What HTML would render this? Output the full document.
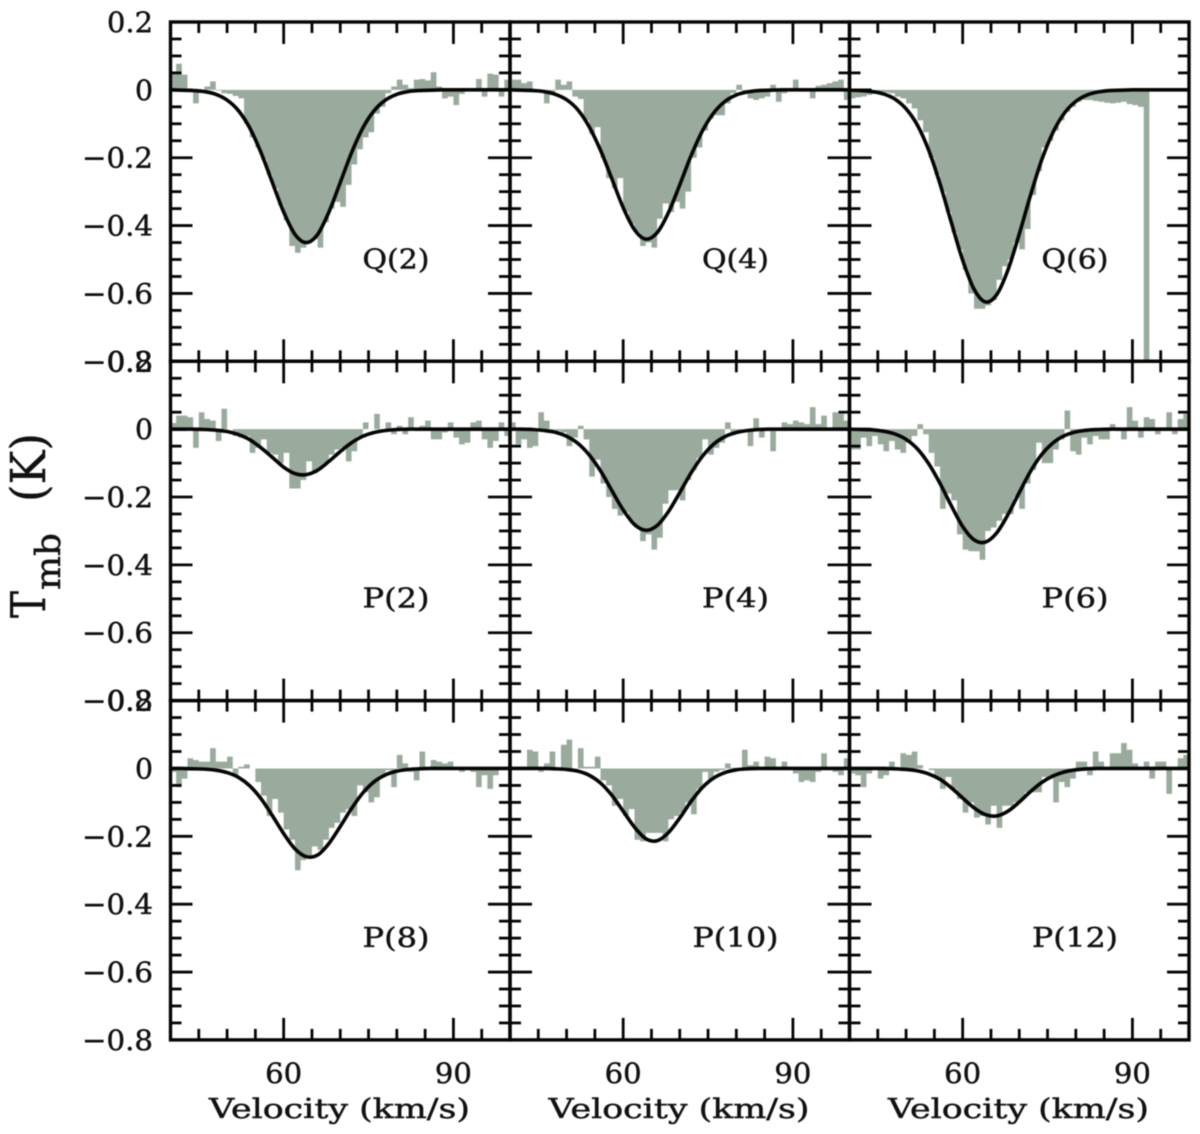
<!DOCTYPE html>
<html>
<head>
<meta charset="utf-8">
<title>Tmb spectra</title>
<style>
html,body{margin:0;padding:0;background:#fff;width:1200px;height:1134px;overflow:hidden}
#chart{display:block;filter:blur(0.55px)}
text{font-family:"DejaVu Serif","Liberation Serif",serif;fill:#111;stroke:#111;stroke-width:0.45px}
</style>
</head>
<body>
<svg id="chart" xmlns="http://www.w3.org/2000/svg" width="1200" height="1134" viewBox="0 0 1200 1134">
<rect x="0" y="0" width="1200" height="1134" fill="#fff"/>
<text transform="translate(45,618) rotate(-90)" font-size="48" textLength="27" lengthAdjust="spacingAndGlyphs">T</text>
<text transform="translate(60,590) rotate(-90)" font-size="35" textLength="57" lengthAdjust="spacingAndGlyphs">mb</text>
<text transform="translate(45,502) rotate(-90)" font-size="48" textLength="69" lengthAdjust="spacingAndGlyphs">(K)</text>
</svg>
<script>
// Axis tick values
const xMajorTicks = [60, 90];
const xMinorTicks = [45, 50, 55, 65, 70, 75, 80, 85, 95];
const xTickLabels = ["60", "90"];
const yMajorTicks = [0.2, 0, -0.2, -0.4, -0.6, -0.8];
const yMinorTicks = [0.15, 0.1, 0.05, -0.05, -0.1, -0.15, -0.25, -0.3, -0.35, -0.45, -0.5, -0.55, -0.65, -0.7, -0.75];
const yTickLabels = ["0.2", "0", "\u22120.2", "\u22120.4", "\u22120.6", "\u22120.8"];

// Velocities (km/s) at which the fitted curves are sampled
const fitVelocities = [40,42,44,46,48,50,52,54,56,58,60,62,64,66,68,70,72,74,76,78,80,82,84,86,88,90,92,94,96,98,100];

// Panel names
const panelNames = ["Q(2)","Q(4)","Q(6)","P(2)","P(4)","P(6)","P(8)","P(10)","P(12)"];

// Observed spectra: one value per 1 km/s channel, 40 to 100 km/s
const specQ2 = [.05,.077,.045,0,-.04,-.01,.01,.025,-.002,-.01,
-.012,-.018,-.025,-.1,-.14,-.17,-.205,-.25,-.29,-.34,
-.385,-.46,-.48,-.465,-.445,-.44,-.465,-.39,-.35,-.33,
-.345,-.28,-.22,-.175,-.14,-.125,-.07,-.05,-.01,.01,
.03,.015,.005,.03,.032,.028,.052,.01,-.025,-.02,
-.045,-.012,-.005,.002,.032,-.02,.048,.045,-.02,.03];
const specQ4 = [.03,.03,.02,.025,-.005,-.005,-.04,-.01,.03,.015,
.025,-.02,-.027,-.09,-.13,-.11,-.2,-.26,-.29,-.26,
-.36,-.395,-.42,-.46,-.45,-.465,-.38,-.335,-.36,-.33,
-.35,-.3,-.2,-.17,-.12,-.085,-.075,-.075,-.04,-.01,
.015,-.005,-.025,-.03,-.025,-.02,.015,-.035,-.01,0,
.03,.005,.002,-.025,.012,.015,.02,.025,.03,-.03];
const specQ6 = [-.025,-.022,-.02,-.015,-.012,-.01,-.008,-.01,-.02,-.025,
-.04,-.055,-.09,-.125,-.2,-.25,-.3,-.36,-.42,-.47,
-.53,-.6,-.645,-.645,-.635,-.62,-.56,-.52,-.5,-.45,
-.47,-.41,-.31,-.24,-.17,-.15,-.12,-.09,-.065,-.05,
-.035,-.03,-.03,-.033,-.035,-.038,-.04,-.038,-.035,-.042,
-.045,-.05,-.8,0,0,0,0,0,0,0];
const specP2 = [.018,.04,.04,.035,-.055,.05,.03,.025,-.035,.06,
0,-.02,-.025,-.02,-.07,-.055,-.03,-.07,-.075,-.1,
-.07,-.175,-.175,-.15,-.095,-.13,-.115,-.1,-.075,-.06,
-.055,-.095,-.065,-.02,.02,0,.045,-.005,.02,-.015,
.01,-.015,.035,0,.01,.025,-.03,-.03,-.01,.02,
-.025,-.045,-.04,.02,.025,-.03,-.055,-.035,.02,-.02];
const specP4 = [.02,-.045,-.03,-.055,-.05,.05,.025,-.002,-.005,-.01,
-.05,-.025,.01,-.03,-.14,-.09,-.16,-.2,-.235,-.255,
-.245,-.27,-.29,-.33,-.31,-.355,-.32,-.22,-.18,-.18,
-.21,-.15,-.12,-.085,-.03,-.075,-.055,-.04,.02,-.01,
-.01,0,-.05,.032,-.025,.005,-.065,-.005,.02,.015,
.025,.02,.015,.065,.015,.04,0,.05,.045,.025];
const specP6 = [-.06,-.06,-.025,-.05,-.02,-.045,-.065,-.035,-.06,-.07,
-.04,-.02,.015,-.015,-.07,-.11,-.235,-.19,-.21,-.31,
-.355,-.36,-.36,-.385,-.3,-.29,-.27,-.25,-.25,-.2,
-.235,-.16,-.12,-.04,-.1,-.1,-.06,-.03,.055,-.065,
-.075,-.025,-.045,-.02,-.03,-.03,.015,0,-.03,.065,
.025,-.025,.035,.03,-.015,0,.05,-.015,.03,.045];
const specP8 = [-.01,-.055,-.03,.03,.025,.02,.02,.06,.02,.02,
.035,-.02,.005,.012,0,-.04,-.08,-.14,-.09,-.13,
-.18,-.21,-.3,-.27,-.26,-.23,-.24,-.21,-.175,-.16,
-.13,-.12,-.14,-.05,-.07,-.1,-.085,-.02,-.005,-.055,
.04,.015,-.01,-.035,.05,0,.025,.02,.015,.02,
.005,-.01,-.005,-.01,-.055,-.02,-.06,-.02,-.005,.005];
const specP10 = [0,.005,.005,.055,.05,-.01,.015,.05,-.005,.07,
.085,-.005,.06,.005,.005,.035,-.035,-.05,-.11,-.09,
-.14,-.12,-.21,-.215,-.19,-.19,-.19,-.215,-.15,-.14,
-.13,-.1,-.135,-.06,-.01,-.035,-.01,-.005,.015,.002,
.002,.055,.01,.02,.005,.035,.03,.002,.02,.005,
-.015,-.04,-.035,-.04,-.01,.045,0,-.01,-.02,.03];
const specP12 = [-.015,-.02,-.055,-.015,-.005,-.03,-.02,.02,0,.045,
.04,.05,.01,0,-.005,-.03,-.06,-.025,-.06,-.09,
-.13,-.1,-.145,-.14,-.165,-.11,-.175,-.11,-.11,-.1,
-.09,-.07,-.07,-.07,-.025,-.03,-.1,-.04,-.055,-.03,
.02,.02,-.02,.05,.02,.002,.045,.045,.075,.055,
.015,.005,.02,-.03,.02,.02,-.075,.002,.03,.04];

// Fitted curves read at fitVelocities
const fitQ2 = [0,-.001,-.002,-.005,-.013,-.03,-.061,-.112,-.185,-.273,-.36,-.426,-.45,-.426,-.36,-.273,-.185,-.112,-.061,-.03,-.013,-.005,-.002,-.001,0,0,0,0,0,0,0];
const fitQ4 = [0,-.001,-.002,-.005,-.013,-.029,-.059,-.109,-.178,-.262,-.347,-.412,-.44,-.421,-.362,-.28,-.194,-.121,-.068,-.034,-.015,-.006,-.002,-.001,0,0,0,0,0,0,0];
const fitQ6 = [-.001,-.002,-.005,-.012,-.027,-.056,-.104,-.178,-.277,-.391,-.502,-.587,-.625,-.604,-.531,-.425,-.31,-.205,-.124,-.068,-.034,-.015,-.006,-.002,-.001,0,0,0,0,0,0];
const fitP2 = [0,0,0,-.001,-.003,-.007,-.016,-.031,-.055,-.083,-.112,-.131,-.134,-.121,-.095,-.066,-.04,-.021,-.01,-.004,-.001,0,0,0,0,0,0,0,0,0,0];
const fitP4 = [0,0,-.001,-.004,-.009,-.021,-.042,-.076,-.123,-.181,-.238,-.281,-.298,-.284,-.243,-.187,-.129,-.08,-.044,-.022,-.01,-.004,-.001,0,0,0,0,0,0,0,0];
const fitP6 = [0,-.001,-.002,-.006,-.014,-.03,-.058,-.102,-.16,-.226,-.287,-.326,-.333,-.306,-.252,-.187,-.124,-.074,-.04,-.019,-.008,-.003,-.001,0,0,0,0,0,0,0,0];
const fitP8 = [0,0,-.001,-.002,-.005,-.012,-.026,-.051,-.089,-.139,-.192,-.237,-.26,-.255,-.221,-.171,-.118,-.072,-.039,-.019,-.008,-.003,-.001,0,0,0,0,0,0,0,0];
const fitP10 = [0,0,0,0,-.001,-.003,-.008,-.02,-.043,-.079,-.126,-.173,-.207,-.213,-.189,-.146,-.097,-.056,-.028,-.012,-.004,-.001,0,0,0,0,0,0,0,0,0];
const fitP12 = [0,0,0,0,-.001,-.003,-.007,-.016,-.032,-.057,-.087,-.116,-.136,-.14,-.126,-.099,-.068,-.041,-.022,-.01,-.004,-.001,0,0,0,0,0,0,0,0,0];

const spectra = [specQ2, specQ4, specQ6, specP2, specP4, specP6, specP8, specP10, specP12];
const fits = [fitQ2, fitQ4, fitQ6, fitP2, fitP4, fitP6, fitP8, fitP10, fitP12];

const NS = "http://www.w3.org/2000/svg";
const svg = document.getElementById("chart");
const VMIN = 40, VMAX = 100, TMAX = 0.2, TMIN = -0.8;
const PW = 339.5, PH = 339.3, LEFT = 170.5, TOP = 22;
const FILL = "#9aab9d", INK = "#050505";

function xScale(col, v) { return LEFT + col * PW + (v - VMIN) / (VMAX - VMIN) * PW; }
function yScale(row, t) { return TOP + row * PH + (TMAX - t) / (TMAX - TMIN) * PH; }
function f(n) { return n.toFixed(2); }

function addLine(parent, x1, y1, x2, y2, w) {
  const el = document.createElementNS(NS, "line");
  el.setAttribute("x1", f(x1)); el.setAttribute("y1", f(y1));
  el.setAttribute("x2", f(x2)); el.setAttribute("y2", f(y2));
  el.setAttribute("stroke", INK); el.setAttribute("stroke-width", w);
  
  
  parent.appendChild(el);
  return el;
}

function addText(parent, str, x, y, size, anchor, name, width) {
  const el = document.createElementNS(NS, "text");
  el.setAttribute("x", x); el.setAttribute("y", y);
  el.setAttribute("font-size", size);
  el.setAttribute("text-anchor", anchor);
  el.setAttribute("textLength", width);
  el.setAttribute("lengthAdjust", "spacingAndGlyphs");
  el.textContent = str;
  
  
  parent.appendChild(el);
  return el;
}

function spectrumPath(col, row, values) {
  const y0 = yScale(row, 0);
  let d = "M" + f(xScale(col, VMIN)) + " " + f(y0);
  values.forEach(function (val, i) {
    const yv = yScale(row, val);
    d += "L" + f(xScale(col, VMIN + i)) + " " + f(yv);
    d += "L" + f(xScale(col, VMIN + i + 1)) + " " + f(yv);
  });
  return d + "L" + f(xScale(col, VMAX)) + " " + f(y0) + "Z";
}

function fitPath(col, row, values) {
  const pts = values.map(function (val, i) { return [xScale(col, fitVelocities[i]), yScale(row, val)]; });
  let d = "M" + f(pts[0][0]) + " " + f(pts[0][1]);
  for (let i = 0; i < pts.length - 1; i++) {
    const p0 = pts[Math.max(i - 1, 0)], p1 = pts[i], p2 = pts[i + 1], p3 = pts[Math.min(i + 2, pts.length - 1)];
    d += "C" + f(p1[0] + (p2[0] - p0[0]) / 6) + " " + f(p1[1] + (p2[1] - p0[1]) / 6) + " " +
         f(p2[0] - (p3[0] - p1[0]) / 6) + " " + f(p2[1] - (p3[1] - p1[1]) / 6) + " " +
         f(p2[0]) + " " + f(p2[1]);
  }
  return d;
}

function yLabelWidth(str) {
  if (str.length === 1) return 18;
  if (str.length === 3) return 46;
  return 71;
}

panelNames.forEach(function (name, idx) {
  const col = idx % 3, row = Math.floor(idx / 3);
  const key = name.replace(/[()]/g, "").toLowerCase();
  const x0 = xScale(col, VMIN), x1 = xScale(col, VMAX), y0 = yScale(row, TMAX), y1 = yScale(row, TMIN);

  const g = document.createElementNS(NS, "g");
  
  
  svg.appendChild(g);

  const area = document.createElementNS(NS, "path");
  area.setAttribute("d", spectrumPath(col, row, spectra[idx]));
  area.setAttribute("fill", FILL);
  
  
  g.appendChild(area);

  const curve = document.createElementNS(NS, "path");
  curve.setAttribute("d", fitPath(col, row, fits[idx]));
  curve.setAttribute("fill", "none");
  curve.setAttribute("stroke", INK);
  curve.setAttribute("stroke-width", "3.6");
  
  
  g.appendChild(curve);

  const frame = document.createElementNS(NS, "rect");
  frame.setAttribute("x", f(x0)); frame.setAttribute("y", f(y0));
  frame.setAttribute("width", f(x1 - x0)); frame.setAttribute("height", f(y1 - y0));
  frame.setAttribute("fill", "none");
  frame.setAttribute("stroke", INK);
  frame.setAttribute("stroke-width", "3.4");
  
  
  g.appendChild(frame);

  xMajorTicks.forEach(function (v) {
    addLine(g, xScale(col, v), y0, xScale(col, v), y0 + 22, 2.8);
    addLine(g, xScale(col, v), y1, xScale(col, v), y1 - 22, 2.8);
  });
  xMinorTicks.forEach(function (v) {
    addLine(g, xScale(col, v), y0, xScale(col, v), y0 + 11, 2.8);
    addLine(g, xScale(col, v), y1, xScale(col, v), y1 - 11, 2.8);
  });
  yMajorTicks.forEach(function (t) {
    addLine(g, x0, yScale(row, t), x0 + 22, yScale(row, t), 2.8);
    addLine(g, x1, yScale(row, t), x1 - 22, yScale(row, t), 2.8);
  });
  yMinorTicks.forEach(function (t) {
    addLine(g, x0, yScale(row, t), x0 + 11, yScale(row, t), 2.8);
    addLine(g, x1, yScale(row, t), x1 - 11, yScale(row, t), 2.8);
  });

  addText(g, name, f(x0 + 225.5), f(yScale(row, 0) + 178.5), 27, "middle", "line-label-" + key, name.length === 4 ? 67 : 86);

  if (col === 0) {
    yMajorTicks.forEach(function (t, i) {
      addText(g, yTickLabels[i], 153, f(yScale(row, t) + 10), 28, "end", "y-tick-label", yLabelWidth(yTickLabels[i]));
    });
  }
  if (row === 2) {
    xMajorTicks.forEach(function (v, i) {
      addText(g, xTickLabels[i], f(xScale(col, v)), 1083, 28, "middle", "x-tick-label", 37);
    });
    addText(g, "Velocity (km/s)", f(x0 + 38.5), 1118, 27, "start", "x-axis-title", 261);
  }
});
</script>
</body>
</html>
